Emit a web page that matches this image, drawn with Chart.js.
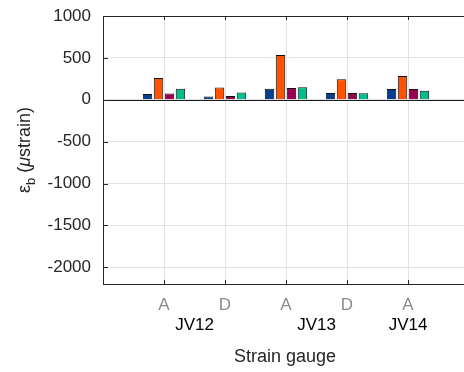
<!DOCTYPE html>
<html>
<head>
<meta charset="utf-8">
<script src="https://cdn.jsdelivr.net/npm/chart.js@4"></script>
<style>
    html, body { margin: 0; padding: 0; overflow: hidden; background: #fff; }
    #wrap { width: 480px; height: 372px; position: relative; }
</style>
</head>
<body>
<div id="wrap"><canvas id="strainChart"></canvas></div>
<script>
// gauge positions along x (first and last slot are left empty)
const gauges = ['A', 'D', 'A', 'D', 'A'];
const groupLabels = ['JV12', 'JV13', 'JV14'];
const groupAt = [1.5, 3.5, 5];          // category index under which each group name sits
const yTicks = [-2000, -1500, -1000, -500, 0, 500, 1000];

// bending strain per gauge, four series
const series1 = [70, 40, 132, 80, 128];
const series2 = [260, 145, 533, 245, 285];
const series3 = [75, 45, 140, 80, 128];
const series4 = [130, 88, 148, 78, 108];

const colors = ['#073f8c', '#ff5300', '#99004f', '#00bf8c'];

const pad = arr => [null, ...arr, null];
const labels = ['', ...gauges, ''];

const axisColor = '#262626';
const font = "'Liberation Sans', Arial, sans-serif";

const extras = {
    id: 'extras',
    afterDatasetsDraw(chart) {
        const { ctx, chartArea: a, scales: { x, y } } = chart;
        ctx.save();
        // zero line
        ctx.strokeStyle = '#1a1a1a';
        ctx.lineWidth = 1;
        const y0 = Math.round(y.getPixelForValue(0)) + 0.5;
        ctx.beginPath();
        ctx.moveTo(a.left, y0);
        ctx.lineTo(a.right, y0);
        ctx.stroke();
        // top border
        ctx.strokeStyle = axisColor;
        ctx.beginPath();
        ctx.moveTo(a.left, a.top + 0.5);
        ctx.lineTo(a.right, a.top + 0.5);
        ctx.stroke();
        // inward ticks
        ctx.beginPath();
        yTicks.forEach(v => {
            const py = Math.round(y.getPixelForValue(v)) + 0.5;
            ctx.moveTo(a.left, py);
            ctx.lineTo(a.left + 5, py);
        });
        for (let i = 1; i < labels.length - 1; i++) {
            const px = Math.round(x.getPixelForValue(i)) + 0.5;
            ctx.moveTo(px, a.bottom);
            ctx.lineTo(px, a.bottom - 4);
            ctx.moveTo(px, a.top);
            ctx.lineTo(px, a.top + 4);
        }
        ctx.stroke();
        ctx.restore();
    },
    afterDraw(chart) {
        const { ctx, chartArea: a, scales: { x } } = chart;
        ctx.save();
        ctx.fillStyle = '#000';
        ctx.font = '17px ' + font;
        ctx.textAlign = 'center';
        ctx.textBaseline = 'alphabetic';
        groupLabels.forEach((g, i) => {
            ctx.fillText(g, x.getPixelForValue(groupAt[i]), 330);
        });
        ctx.fillStyle = axisColor;
        ctx.font = '18px ' + font;
        ctx.fillText('Strain gauge', (a.left + a.right) / 2 - 1, 362);

        // y axis title: ε_b (μstrain)
        ctx.translate(30, (a.top + a.bottom) / 2);
        ctx.rotate(-Math.PI / 2);
        const parts = [
            { t: 'ε', f: '18px ' + font, dy: 0 },
            { t: 'b', f: '13px ' + font, dy: 5 },
            { t: ' (', f: '18px ' + font, dy: 0 },
            { t: 'μ', f: 'italic 18px ' + font, dy: 0 },
            { t: 'strain)', f: '18px ' + font, dy: 0 }
        ];
        let total = 0;
        parts.forEach(p => { ctx.font = p.f; p.w = ctx.measureText(p.t).width; total += p.w; });
        let cx = -total / 2;
        ctx.textAlign = 'left';
        parts.forEach(p => {
            ctx.font = p.f;
            ctx.fillText(p.t, cx, p.dy);
            cx += p.w;
        });
        ctx.restore();
    }
};

const ctx = document.getElementById('strainChart').getContext('2d');
new Chart(ctx, {
    type: 'bar',
    data: {
        labels: labels,
        datasets: [series1, series2, series3, series4].map((d, i) => ({
            label: 'Series ' + (i + 1),
            data: pad(d),
            backgroundColor: colors[i],
            borderColor: '#111',
            borderWidth: 1,
            categoryPercentage: 0.72,
            barPercentage: 0.86
        }))
    },
    options: {
        responsive: true,
        maintainAspectRatio: false,
        animation: false,
        layout: { padding: { top: 16, right: 11, left: 0, bottom: 0 } },
        plugins: {
            legend: { display: false },
            tooltip: { enabled: false }
        },
        scales: {
            x: {
                offset: false,
                grid: {
                    offset: false,
                    drawTicks: false,
                    color: c => (c.index > 0 && c.index < labels.length - 1) ? '#e3e3e3' : 'rgba(0,0,0,0)'
                },
                border: { color: axisColor, width: 1 },
                ticks: {
                    color: '#8a8a8a',
                    font: { family: font, size: 17 },
                    padding: 11,
                    maxRotation: 0,
                    autoSkip: false
                },
                afterFit: s => { s.height = 88; s.paddingLeft = 0; s.paddingRight = 0; }
            },
            y: {
                min: -2200,
                max: 1000,
                grid: { drawTicks: false, color: '#e3e3e3' },
                border: { color: axisColor, width: 1 },
                ticks: {
                    color: axisColor,
                    font: { family: font, size: 17 },
                    padding: 12,
                    callback: v => String(v)
                },
                afterBuildTicks: s => { s.ticks = yTicks.map(v => ({ value: v })); },
                afterFit: s => { s.width = 103; s.paddingTop = 0; s.paddingBottom = 0; }
            }
        }
    },
    plugins: [extras]
});
</script>
</body>
</html>
